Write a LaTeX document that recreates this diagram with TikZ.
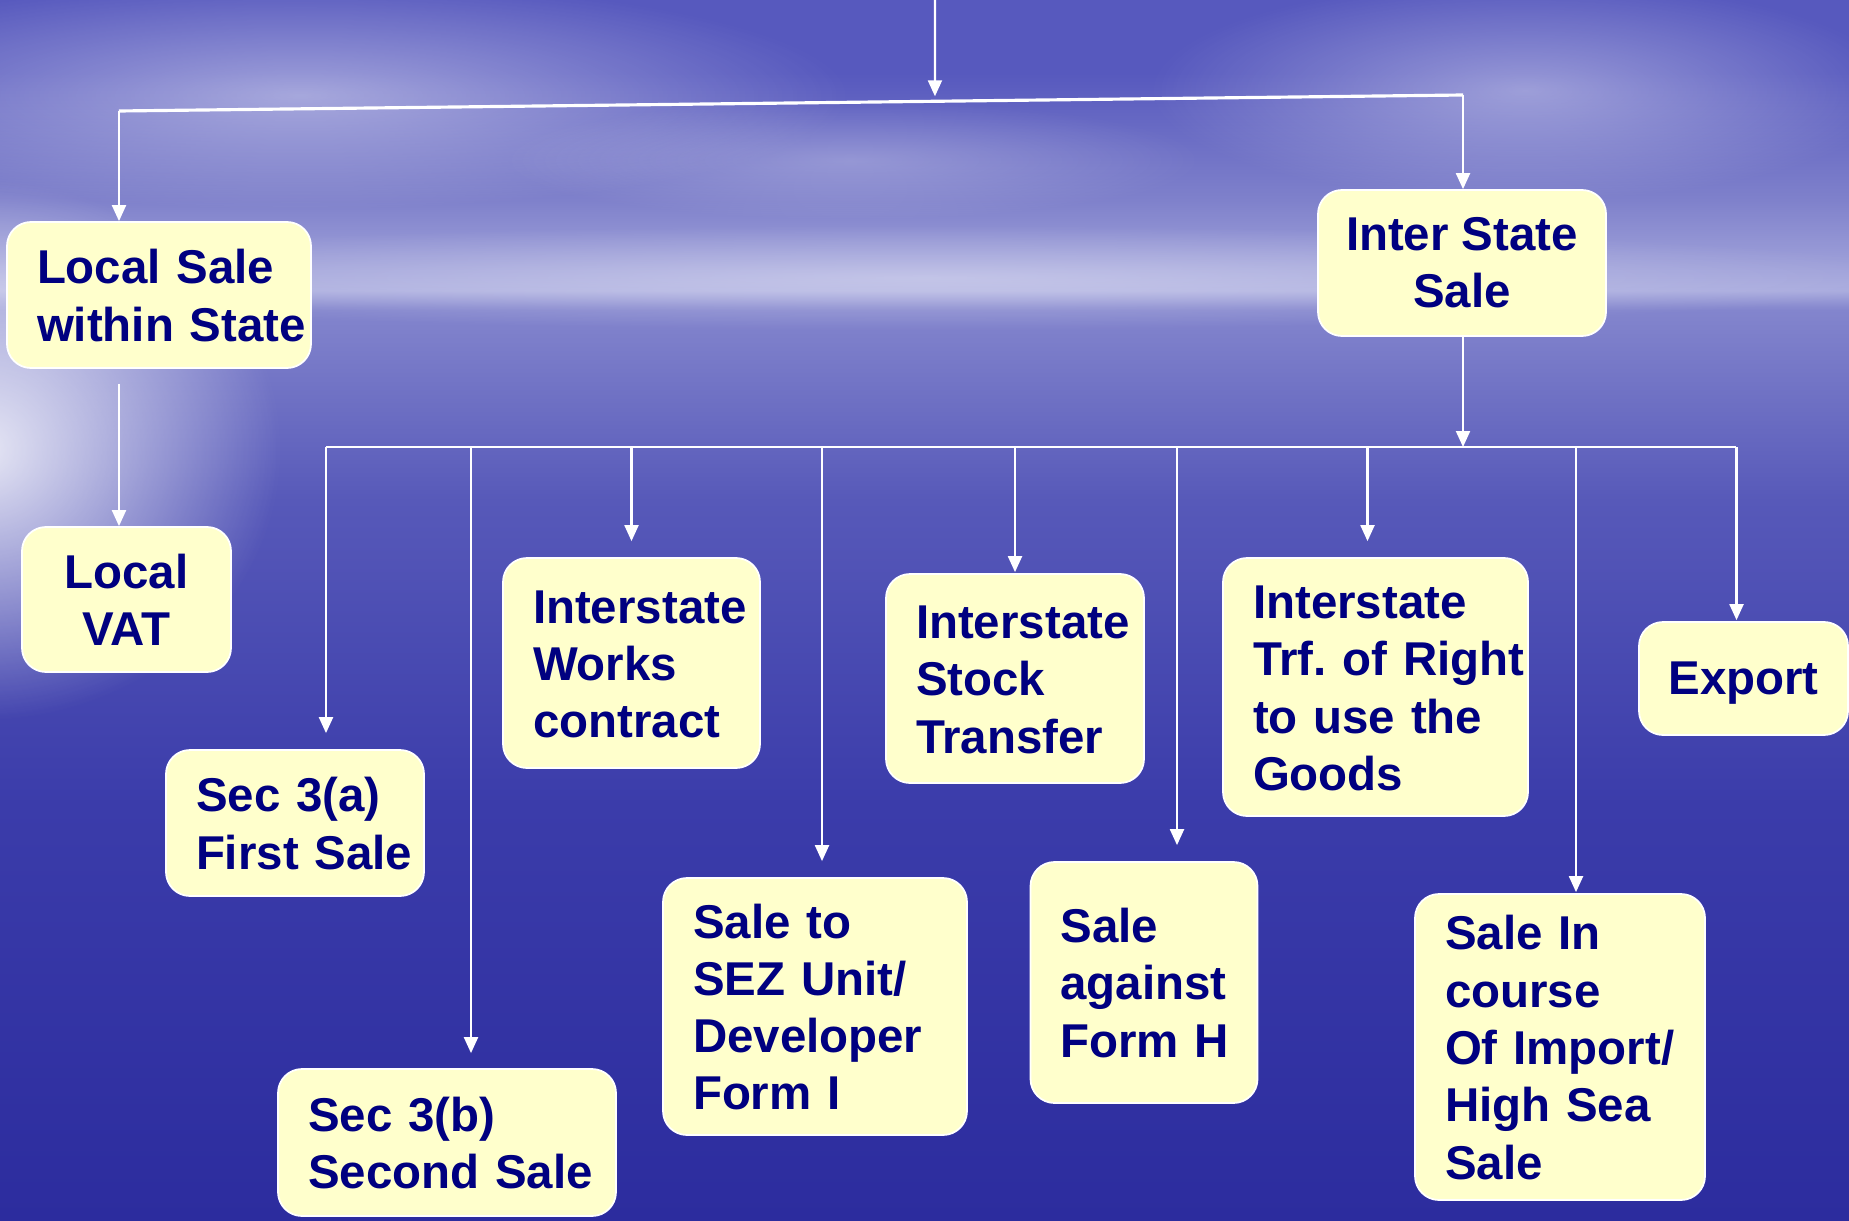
\documentclass[tikz,border=0pt]{standalone}
\usepackage{fontspec}
\setmainfont{Liberation Sans}
\usetikzlibrary{arrows.meta,fadings,calc}
\definecolor{boxfill}{HTML}{FFFFCC}
\definecolor{ink}{HTML}{000080}
\definecolor{skytop}{HTML}{5759BE}
\definecolor{cloud}{HTML}{7F81CB}
\definecolor{haze}{HTML}{A9ABDE}
\definecolor{horizon}{HTML}{8385CD}
\definecolor{seanear}{HTML}{5759B9}
\definecolor{seamid}{HTML}{3B3CAA}
\definecolor{seadeep}{HTML}{2C2C9E}
\pgfdeclareverticalshading{seasky}{100bp}{color(0bp)=(seadeep); color(25bp)=(seadeep);
  color(42bp)=(seamid); color(54.5bp)=(seanear); color(62.3bp)=(horizon);
  color(63.1bp)=(haze); color(66.8bp)=(cloud); color(72bp)=(skytop); color(100bp)=(skytop)}
\tikzfading[name=glow, inner color=transparent!0, outer color=transparent!100]
\newcommand{\boxlines}[1]{\raisebox{-0.6mm}[\height][\depth]{\begin{tabular}{@{}l@{}}#1\end{tabular}}}
\frenchspacing

\begin{document}
\begin{tikzpicture}[x=0.1mm, y=-0.1mm,
  salebox/.style={draw=white, line width=0.5pt, fill=boxfill, rounded corners=2.4mm,
                  text=ink, font=\fontsize{13.5}{16.3}\selectfont\bfseries,
                  align=left, inner xsep=3mm, inner ysep=0pt},
  arr/.style={-{Triangle[length=1.6mm, width=1.4mm]}, white, line width=0.6pt},
  wire/.style={white, line width=0.6pt},
  haze/.style={white, path fading=glow},
]
  \useasboundingbox (0,0) rectangle (1849,1220);
  \shade[shading=seasky] (0,0) rectangle (1849,1220);
  \fill[haze, opacity=0.45] (-250,-20) rectangle (850,210);
  \fill[haze, opacity=0.4] (1150,-20) rectangle (1900,200);
  \fill[haze, opacity=0.25] (500,100) rectangle (1200,220);
  \fill[haze, opacity=0.35] (-100,225) rectangle (1950,330);
  \fill[haze, opacity=0.85] (-320,180) rectangle (280,720);

  \node[salebox, text width=24.4mm, minimum height=14.6mm] (locsale) at (159,295) {\boxlines{Local Sale\\within State}};
  \node[salebox, align=center, inner xsep=1mm, minimum width=28.8mm, minimum height=14.6mm] (intsale) at (1462,263) {Inter State\\Sale};
  \node[salebox, align=center, inner xsep=1mm, minimum width=20.9mm, minimum height=14.5mm] (locvat) at (126.5,599.5) {Local\\VAT};
  \node[salebox, text width=19.8mm, minimum height=14.6mm] (seca) at (295,823) {\boxlines{Sec 3(a)\\First Sale}};
  \node[salebox, text width=27.8mm, minimum height=14.7mm] (secb) at (447,1142.5) {\boxlines{Sec 3(b)\\Second Sale}};
  \node[salebox, text width=19.7mm, minimum height=21mm] (works) at (631.5,663) {\boxlines{Interstate\\Works\\contract}};
  \node[salebox, text width=24.4mm, minimum height=25.7mm] (sez) at (815,1006.5) {\boxlines{Sale to\\SEZ Unit/\\Developer\\Form I}};
  \node[salebox, text width=19.8mm, minimum height=20.9mm] (stock) at (1015,678.5) {\boxlines{Interstate\\Stock\\Transfer}};
  \node[salebox, text width=16.7mm, minimum height=24.1mm] (formh) at (1144,982.5) {\boxlines{Sale\\against\\Form H}};
  \node[salebox, text width=24.5mm, minimum height=25.8mm] (trf) at (1375.5,687) {\boxlines{Interstate\\Trf. of Right\\to use the\\Goods}};
  \node[salebox, align=center, inner xsep=1mm, text depth=0pt, minimum width=20.9mm, minimum height=11.3mm] (export) at (1743.5,678.5) {Export};
  \node[salebox, text width=23mm, minimum height=30.6mm] (highsea) at (1560,1047) {\boxlines{Sale In\\course\\Of Import/\\High Sea\\Sale}};

  \coordinate (feed) at (935,0);
  \coordinate (topL) at (119,111);
  \coordinate (topR) at (1463,95);
  \coordinate (topmid) at ($(topL)!0.6071!(topR)$);
  \coordinate (busL) at (326,447);
  \coordinate (busR) at (1736,447);

  \draw[wire, line width=0.9pt] (topL) -- (topR);
  \draw[arr, shorten >=0.5mm] (feed) -- (topmid);
  \draw[arr] (topL) -- (topL |- locsale.north);
  \draw[arr] (topR) -- (topR |- intsale.north);
  \draw[arr, shorten <=1.5mm] (locsale.south -| topL) -- (topL |- locvat.north);
  \draw[arr] (intsale.south -| topR) -- (topR |- busL);
  \draw[wire] (busL) -- (busR);
  \foreach \dx/\target/\gap in {31/seca/1.6, 24/secb/1.5, 0/works/1.6, 7/sez/1.6, 0/stock/0.1,
                                33/formh/1.6, -8/trf/1.6, 16/highsea/0.1, -7/export/0.1}
    \draw[arr, shorten >=\gap*1mm] ([xshift=\dx*0.1mm]\target.north |- busL) -- ([xshift=\dx*0.1mm]\target.north);
\end{tikzpicture}
\end{document}
